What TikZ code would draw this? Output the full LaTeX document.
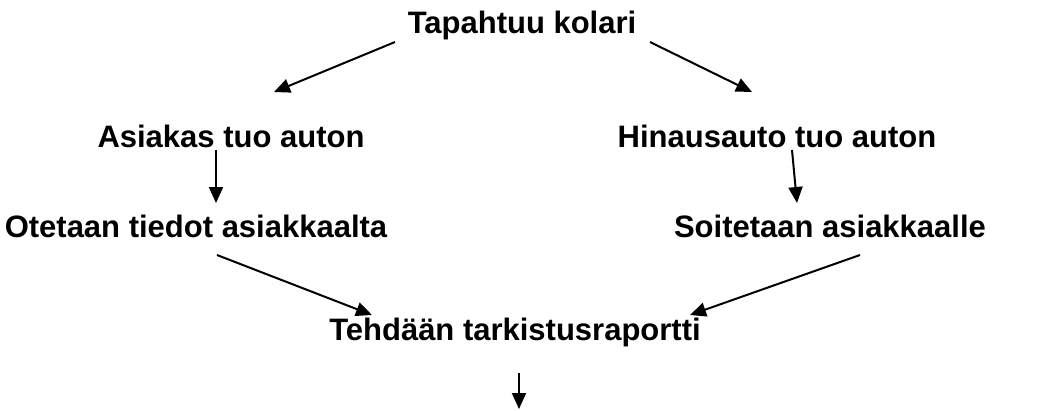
\documentclass[tikz,border=0pt]{standalone}
\usepackage{fontspec}
\setmainfont{Liberation Sans}
\usetikzlibrary{arrows.meta}
\begin{document}
\begin{tikzpicture}[x=1pt,y=-1pt,
  lbl/.style={font=\bfseries\fontsize{31}{35}\selectfont, anchor=base, inner sep=0pt},
  arr/.style={line width=2pt, -{Triangle[length=16pt,width=14pt]}}]
\useasboundingbox (0,0) rectangle (1042,410);
\node[lbl] (top) at (522,33) {Tapahtuu kolari};
\node[lbl] (asiakas) at (231,147) {Asiakas tuo auton};
\node[lbl] (hinaus) at (777,147) {Hinausauto tuo auton};
\node[lbl] (otetaan) at (196,237) {Otetaan tiedot asiakkaalta};
\node[lbl] (soitetaan) at (830,237) {Soitetaan asiakkaalle};
\node[lbl] (tehdaan) at (515,340) {Tehdään tarkistusraportti};
\coordinate (a1) at (395,42);  \coordinate (a1e) at (274,92);
\coordinate (a2) at (650,42);  \coordinate (a2e) at (752,92);
\coordinate (a3) at (216,150); \coordinate (a3e) at (216,203);
\coordinate (a4) at (792,150); \coordinate (a4e) at (797,203);
\coordinate (a5) at (217,255); \coordinate (a5e) at (372,315);
\coordinate (a6) at (860,255); \coordinate (a6e) at (690,315);
\coordinate (a7) at (519,373); \coordinate (a7e) at (519,409);
\draw[arr] (a1) -- (a1e);
\draw[arr] (a2) -- (a2e);
\draw[arr] (a3) -- (a3e);
\draw[arr] (a4) -- (a4e);
\draw[arr] (a5) -- (a5e);
\draw[arr] (a6) -- (a6e);
\draw[arr] (a7) -- (a7e);
\end{tikzpicture}
\end{document}
